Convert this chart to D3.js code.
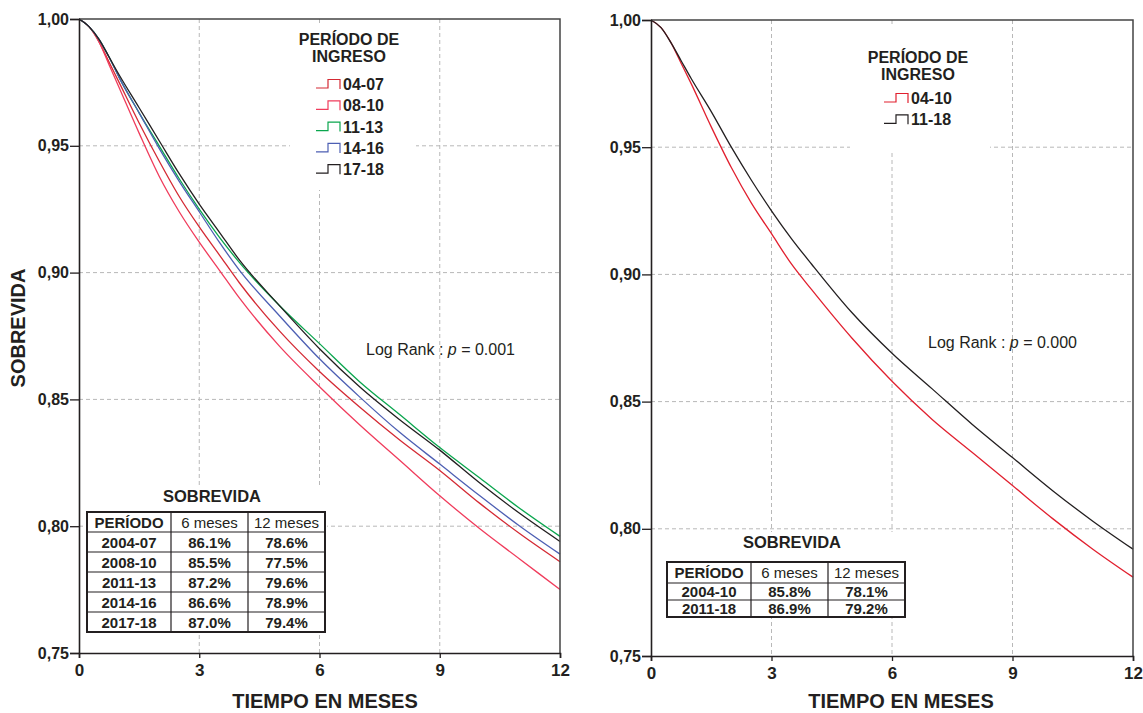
<!DOCTYPE html>
<html>
<head>
<meta charset="utf-8">
<script src="https://cdn.jsdelivr.net/npm/d3@7"></script>
<style>
  body { margin: 0; background: #fff; }
  svg { display: block; font-family: Arial, "Liberation Sans", Helvetica, sans-serif; }
</style>
</head>
<body>
<svg id="chart" width="1143" height="713"></svg>
<script>
// Supervivencia (Kaplan-Meier) por período de ingreso

const MESES = [0, 0.25, 0.5, 0.75, 1, 1.5, 2, 2.5, 3, 3.5, 4, 5, 6, 7, 8, 9, 10, 11, 12];

// panel izquierdo: cinco períodos
const S_04_07 = [1, 0.997, 0.991, 0.983, 0.975, 0.959, 0.944, 0.930, 0.918, 0.907, 0.896, 0.877, 0.861, 0.847, 0.834, 0.822, 0.809, 0.797, 0.786];
const S_08_10 = [1, 0.997, 0.991, 0.982, 0.973, 0.955, 0.938, 0.924, 0.912, 0.901, 0.890, 0.871, 0.855, 0.840, 0.826, 0.812, 0.799, 0.787, 0.775];
const S_11_13 = [1, 0.997, 0.992, 0.985, 0.977, 0.963, 0.950, 0.937, 0.925, 0.914, 0.904, 0.887, 0.872, 0.857, 0.844, 0.831, 0.819, 0.807, 0.796];
const S_14_16 = [1, 0.997, 0.992, 0.985, 0.977, 0.963, 0.949, 0.936, 0.924, 0.912, 0.901, 0.883, 0.866, 0.851, 0.837, 0.8245, 0.812, 0.800, 0.789];
const S_17_18 = [1, 0.997, 0.992, 0.985, 0.978, 0.965, 0.952, 0.939, 0.927, 0.916, 0.905, 0.887, 0.870, 0.855, 0.842, 0.830, 0.817, 0.805, 0.794];

// panel derecho: dos períodos
const S_04_10 = [1, 0.997, 0.991, 0.983, 0.975, 0.958, 0.942, 0.928, 0.916, 0.904, 0.894, 0.875, 0.858, 0.843, 0.830, 0.817, 0.804, 0.792, 0.781];
const S_11_18 = [1, 0.997, 0.991, 0.984, 0.977, 0.964, 0.950, 0.937, 0.925, 0.914, 0.904, 0.885, 0.869, 0.855, 0.841, 0.828, 0.815, 0.803, 0.792];

const X_TICKS = [0, 3, 6, 9, 12];
const Y_TICKS = [0.75, 0.80, 0.85, 0.90, 0.95, 1.00];
const Y_LABELS = ['0,75', '0,80', '0,85', '0,90', '0,95', '1,00'];

const TABLA_HEADER = ['PERÍODO', '6 meses', '12 meses'];
const TABLA_IZQ = [
  ['2004-07', '86.1%', '78.6%'],
  ['2008-10', '85.5%', '77.5%'],
  ['2011-13', '87.2%', '79.6%'],
  ['2014-16', '86.6%', '78.9%'],
  ['2017-18', '87.0%', '79.4%'],
];
const TABLA_DER = [
  ['2004-10', '85.8%', '78.1%'],
  ['2011-18', '86.9%', '79.2%'],
];

const INK = '#231f20';
const GRID = '#b8b8b8';

const svg = d3.select('#chart');

function drawPanel(cfg) {
  const x = d3.scaleLinear().domain([0, 12]).range([cfg.left, cfg.right]);
  const y = d3.scaleLinear().domain([0.75, 1]).range([cfg.bottom, cfg.top]);
  const g = svg.append('g');

  // Grid
  X_TICKS.slice(1, -1).forEach(t => {
    g.append('line')
      .attr('x1', x(t)).attr('x2', x(t))
      .attr('y1', cfg.top).attr('y2', cfg.bottom)
      .attr('stroke', GRID).attr('stroke-dasharray', '4,3');
  });
  Y_TICKS.slice(1, -1).forEach(v => {
    g.append('line')
      .attr('x1', cfg.left).attr('x2', cfg.right)
      .attr('y1', y(v)).attr('y2', y(v))
      .attr('stroke', GRID).attr('stroke-dasharray', '4,3');
  });

  // white backgrounds for legend and table
  g.append('rect').attr('x', cfg.legendBox[0]).attr('y', cfg.legendBox[1])
    .attr('width', cfg.legendBox[2]).attr('height', cfg.legendBox[3]).attr('fill', '#fff');
  g.append('rect').attr('x', cfg.tableX - 2).attr('y', cfg.tableTitleY - 16)
    .attr('width', 242).attr('height', cfg.tableBottom - cfg.tableTitleY + 18).attr('fill', '#fff');

  // Curves
  const line = d3.line()
    .x((d, i) => x(MESES[i]))
    .y(d => y(d))
    .curve(d3.curveMonotoneX);
  cfg.series.forEach(s => {
    g.append('path')
      .attr('d', line(s.values))
      .attr('fill', 'none')
      .attr('stroke', s.color)
      .attr('stroke-width', 1.3);
  });

  // frame (top and right)
  g.append('path')
    .attr('d', `M${cfg.left},${cfg.top}H${cfg.right}V${cfg.bottom}`)
    .attr('fill', 'none').attr('stroke', '#444').attr('stroke-width', 1.5);

  // Axes
  const yAxis = g.append('g')
    .attr('transform', `translate(${cfg.left},0)`)
    .call(d3.axisLeft(y).tickValues(Y_TICKS).tickSize(9).tickPadding(1)
      .tickFormat((d, i) => Y_LABELS[i]));
  const xAxis = g.append('g')
    .attr('transform', `translate(0,${cfg.bottom})`)
    .call(d3.axisBottom(x).tickValues(X_TICKS).tickSize(5).tickPadding(6));
  [yAxis, xAxis].forEach(a => {
    a.select('.domain').attr('stroke', INK).attr('stroke-width', 1.6);
    a.selectAll('.tick line').attr('stroke', INK).attr('stroke-width', 1.3);
    a.selectAll('.tick text').attr('fill', INK)
      .style('font-family', 'Arial, "Liberation Sans", sans-serif')
      .style('font-weight', 'bold');
  });
  yAxis.selectAll('.tick text').style('font-size', '16px');
  xAxis.selectAll('.tick text').style('font-size', '17px');

  // axis titles
  g.append('text')
    .attr('x', cfg.xTitleX).attr('y', 708)
    .attr('text-anchor', 'middle')
    .style('font-size', '20px').style('font-weight', 'bold').attr('fill', INK)
    .text('TIEMPO EN MESES');
  if (cfg.yTitle) {
    g.append('text')
      .attr('transform', 'translate(25,328) rotate(-90)')
      .attr('text-anchor', 'middle')
      .style('font-size', '20px').style('font-weight', 'bold').attr('fill', INK)
      .text('SOBREVIDA');
  }

  // Legend
  const lg = g.append('g');
  ['PERÍODO DE', 'INGRESO'].forEach((t, i) => {
    lg.append('text')
      .attr('x', cfg.legendCx).attr('y', cfg.legendTitleY + i * 17)
      .attr('text-anchor', 'middle')
      .style('font-size', '16px').style('font-weight', 'bold').attr('fill', INK)
      .text(t);
  });
  cfg.series.forEach((s, i) => {
    const by = cfg.legendItemY + i * 21.3;
    const sx = cfg.legendSymX;
    lg.append('path')
      .attr('d', `M${sx},${by - 2}H${sx + 12}V${by - 10.5}H${sx + 24}V${by - 1}`)
      .attr('fill', 'none').attr('stroke', s.color).attr('stroke-width', 1.2);
    lg.append('text')
      .attr('x', sx + 27).attr('y', by)
      .style('font-size', '16px').style('font-weight', 'bold').attr('fill', INK)
      .text(s.name);
  });

  // Log Rank
  const lr = g.append('text')
    .attr('x', cfg.logRank[0]).attr('y', cfg.logRank[1])
    .style('font-size', '16px').attr('fill', INK);
  lr.append('tspan').text('Log Rank : ');
  lr.append('tspan').style('font-style', 'italic').text('p');
  lr.append('tspan').text(` = ${cfg.pValue}`);

  // Table
  const tx = cfg.tableX;
  const colW = [84, 77, 77];
  const colX = [tx, tx + colW[0], tx + colW[0] + colW[1]];
  const tw = d3.sum(colW);
  g.append('text')
    .attr('x', tx + tw / 2 + 6).attr('y', cfg.tableTitleY)
    .attr('text-anchor', 'middle')
    .style('font-size', '16.5px').style('font-weight', 'bold').attr('fill', INK)
    .text('SOBREVIDA');
  const rows = [TABLA_HEADER].concat(cfg.table);
  const rowY = [cfg.tableTop];
  rows.forEach((r, i) => rowY.push(rowY[i] + (i === 0 ? cfg.headerH : cfg.rowH)));
  rows.forEach((r, ri) => {
    r.forEach((c, ci) => {
      g.append('text')
        .attr('x', colX[ci] + colW[ci] / 2)
        .attr('y', (rowY[ri] + rowY[ri + 1]) / 2 + 5.5)
        .attr('text-anchor', 'middle')
        .style('font-size', '15px')
        .style('font-weight', (ri === 0 && ci > 0) ? 'normal' : 'bold')
        .attr('fill', INK)
        .text(c);
    });
  });
  const tb = rowY[rowY.length - 1];
  rowY.slice(1, -1).forEach(yy => {
    g.append('line').attr('x1', tx).attr('x2', tx + tw).attr('y1', yy).attr('y2', yy)
      .attr('stroke', INK).attr('stroke-width', 1.2);
  });
  colX.slice(1).forEach(xx => {
    g.append('line').attr('x1', xx).attr('x2', xx).attr('y1', cfg.tableTop).attr('y2', tb)
      .attr('stroke', INK).attr('stroke-width', 1.2);
  });
  g.append('rect').attr('x', tx).attr('y', cfg.tableTop).attr('width', tw).attr('height', tb - cfg.tableTop)
    .attr('fill', 'none').attr('stroke', INK).attr('stroke-width', 2);
}

drawPanel({
  left: 79, right: 560, top: 19, bottom: 653,
  yTitle: true, xTitleX: 325,
  series: [
    { name: '04-07', color: '#d42a34', values: S_04_07 },
    { name: '08-10', color: '#f03c5c', values: S_08_10 },
    { name: '11-13', color: '#0aa64e', values: S_11_13 },
    { name: '14-16', color: '#4d5fb3', values: S_14_16 },
    { name: '17-18', color: '#231f20', values: S_17_18 },
  ],
  legendBox: [290, 24, 126, 166],
  legendCx: 349, legendTitleY: 45, legendItemY: 90, legendSymX: 316,
  logRank: [366, 355], pValue: '0.001',
  table: TABLA_IZQ, tableX: 87, tableTop: 512, headerH: 20, rowH: 20, tableTitleY: 502, tableBottom: 632,
});

drawPanel({
  left: 651, right: 1133, top: 20, bottom: 656,
  yTitle: false, xTitleX: 901,
  series: [
    { name: '04-10', color: '#e1202f', values: S_04_10 },
    { name: '11-18', color: '#231f20', values: S_11_18 },
  ],
  legendBox: [850, 24, 140, 126],
  legendCx: 918, legendTitleY: 63, legendItemY: 104, legendSymX: 884,
  logRank: [928, 348], pValue: '0.000',
  table: TABLA_DER, tableX: 667, tableTop: 562, headerH: 21, rowH: 17, tableTitleY: 548, tableBottom: 616,
});
</script>
</body>
</html>
